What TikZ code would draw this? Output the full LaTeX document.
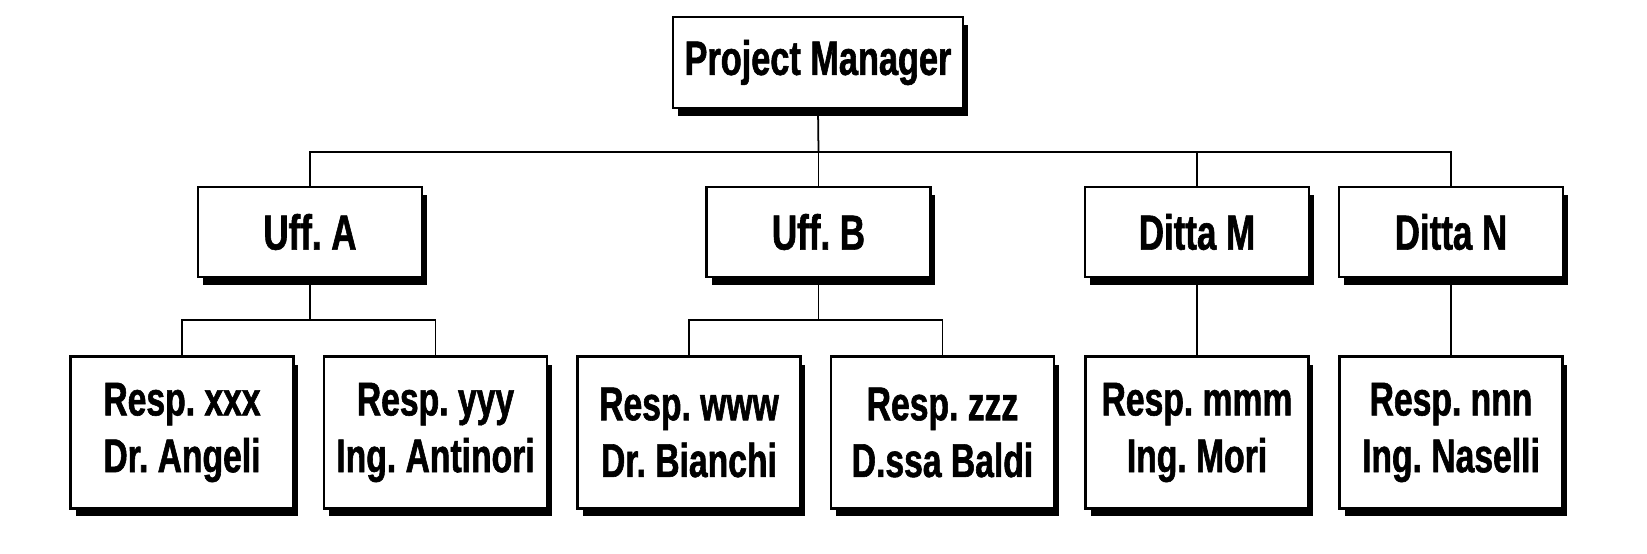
\documentclass[tikz,border=0pt]{standalone}
\usepackage{fontspec}
\setmainfont[FakeStretch=0.71,BoldFeatures={FakeBold=1.2}]{Liberation Sans}
\usetikzlibrary{shadows}
\frenchspacing

\begin{document}
\begin{tikzpicture}[x=0.02cm,y=-0.02cm,every text node part/.style={align=center},
box/.style={draw,line width=1.6pt,fill=white,drop shadow={opacity=1,fill=black,shadow xshift=0.1cm,shadow yshift=-0.16cm}},
boss/.style={box,minimum width=5.8cm,minimum height=1.82cm,font=\fontsize{27.5}{31}\selectfont\bfseries},
office/.style={box,minimum width=4.48cm,minimum height=1.8cm,font=\fontsize{28}{31}\selectfont\bfseries},
person/.style={box,minimum width=4.46cm,minimum height=3.04cm,font=\fontsize{27}{32.3}\selectfont\bfseries},
link/.style={line width=1pt}]
\useasboundingbox (0,0) rectangle (1647,554);
% top
\node [boss] (pm) at (818,62.5) {Project Manager};
% offices
\node [office] (uffa) at (310,232) {Uff. A};
\node [office] (uffb) at (818.5,232) {Uff. B};
\node [office] (dittam) at (1197,232) {Ditta M};
\node [office] (dittan) at (1451,232) {Ditta N};
% people
\node [person] (respx) at (182,432.5) {Resp. xxx\\Dr. Angeli};
\node [person] (respy) at (435.5,432.5) {Resp. yyy\\Ing. Antinori};
\node [person] (respw) at (689,432.5) {Resp. www\\Dr. Bianchi};
\node [person] (respz) at (942.5,432.5) {Resp. zzz\\D.ssa Baldi};
\node [person] (respm) at (1197,432.5) {Resp. mmm\\Ing. Mori};
\node [person] (respn) at (1451,432.5) {Resp. nnn\\Ing. Naselli};
% links
\coordinate (fork) at (818.5,152);
\coordinate (forka) at (310,320);
\coordinate (forkb) at (818.5,320);
\draw [link] (pm.south) -- (fork);
\draw [link] (uffa.north) |- (fork) -| (dittan.north);
\draw [link] (fork) -- (uffb.north);
\draw [link] (dittam.north) -- (dittam.north |- fork);
\draw [link] (uffa.south) -- (forka);
\draw [link] (respx.north) |- (forka) -| (respy.north);
\draw [link] (uffb.south) -- (forkb);
\draw [link] (respw.north) |- (forkb) -| (respz.north);
\draw [link] (dittam.south) -- (respm.north);
\draw [link] (dittan.south) -- (respn.north);
\end{tikzpicture}
\end{document}
